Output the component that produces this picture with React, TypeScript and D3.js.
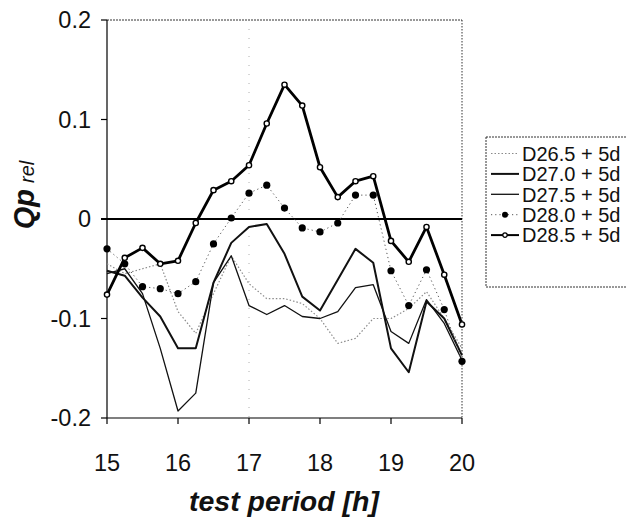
import React from "react";
import * as d3 from "d3";

const hours = [15, 15.25, 15.5, 15.75, 16, 16.25, 16.5, 16.75, 17, 17.25, 17.5, 17.75, 18, 18.25, 18.5, 18.75, 19, 19.25, 19.5, 19.75, 20];

const d265 = [-0.045, -0.055, -0.05, -0.045, -0.093, -0.115, -0.075, -0.037, -0.065, -0.08, -0.08, -0.085, -0.1, -0.125, -0.12, -0.1, -0.1, -0.09, -0.073, -0.1, -0.13];
const d270 = [-0.052, -0.057, -0.079, -0.098, -0.13, -0.13, -0.064, -0.024, -0.008, -0.005, -0.035, -0.078, -0.092, -0.061, -0.03, -0.044, -0.13, -0.154, -0.083, -0.1, -0.137];
const d275 = [-0.055, -0.05, -0.075, -0.13, -0.193, -0.175, -0.064, -0.037, -0.087, -0.096, -0.087, -0.098, -0.1, -0.093, -0.069, -0.066, -0.113, -0.125, -0.081, -0.105, -0.142];
const d280 = [-0.03, -0.045, -0.068, -0.07, -0.075, -0.063, -0.025, 0.001, 0.026, 0.034, 0.011, -0.009, -0.013, -0.004, 0.024, 0.024, -0.052, -0.087, -0.051, -0.091, -0.143];
const d285 = [-0.076, -0.039, -0.029, -0.045, -0.042, -0.004, 0.029, 0.038, 0.054, 0.096, 0.135, 0.114, 0.052, 0.022, 0.038, 0.043, -0.022, -0.043, -0.008, -0.056, -0.106];

const xTicks = [15, 16, 17, 18, 19, 20];
const yTicks = [0.2, 0.1, 0, -0.1, -0.2];
const seriesNames = ["D26.5 + 5d", "D27.0 + 5d", "D27.5 + 5d", "D28.0 + 5d", "D28.5 + 5d"];

type Style = { stroke: string; width: number; dash?: string; marker?: "filled" | "open" };
const styles: Style[] = [
  { stroke: "#8a8a8a", width: 1.2, dash: "1.5,2" },
  { stroke: "#111", width: 2 },
  { stroke: "#111", width: 1.3 },
  { stroke: "#555", width: 1, dash: "1.2,3", marker: "filled" },
  { stroke: "#000", width: 2.8, marker: "open" },
];
const allSeries = [d265, d270, d275, d280, d285];

export default function App() {
  const W = 627, H = 529;
  const x = d3.scaleLinear().domain([15, 20]).range([107, 462]);
  const y = d3.scaleLinear().domain([-0.2, 0.2]).range([418, 20]);
  const line = d3.line<number>().x((_, i) => x(hours[i])).y((v) => y(v));
  const font = "Arial, 'Liberation Sans', sans-serif";

  return (
    <svg width={W} height={H} style={{ position: "absolute", left: 0, top: 0, background: "#fff" }} fontFamily={font}>
      {/* frame */}
      <line x1={x(15)} x2={x(20)} y1={y(0.2)} y2={y(0.2)} stroke="#333" strokeWidth={1} strokeDasharray="2,1" />
      <line x1={x(20)} x2={x(20)} y1={y(0.2)} y2={y(-0.2)} stroke="#333" strokeWidth={1} strokeDasharray="1.5,1.5" />
      <line x1={x(17)} x2={x(17)} y1={y(0.2)} y2={y(-0.2)} stroke="#999" strokeWidth={0.8} strokeDasharray="1,8" />
      <line x1={x(15)} x2={x(15)} y1={y(0.2)} y2={y(-0.2)} stroke="#000" strokeWidth={1.2} />
      <line x1={x(15)} x2={x(20)} y1={y(-0.2)} y2={y(-0.2)} stroke="#000" strokeWidth={1.2} />
      <line x1={x(15) - 6} x2={x(20)} y1={y(0)} y2={y(0)} stroke="#000" strokeWidth={2.2} />

      {yTicks.map((t) => (
        <g key={t}>
          <line x1={x(15) - 6} x2={x(15)} y1={y(t)} y2={y(t)} stroke="#000" strokeWidth={1.2} />
          <text x={91} y={y(t)} dy="0.36em" textAnchor="end" fontSize={23.5} fill="#111">
            {t === 0 ? "0" : t.toString()}
          </text>
        </g>
      ))}
      {xTicks.map((t) => (
        <g key={t}>
          <line x1={x(t)} x2={x(t)} y1={y(-0.2)} y2={y(-0.2) + 6} stroke="#000" strokeWidth={1.2} />
          <text x={x(t)} y={471} textAnchor="middle" fontSize={23.5} fill="#111">
            {t}
          </text>
        </g>
      ))}

      {allSeries.map((s, k) => (
        <path
          key={k}
          d={line(s) || ""}
          fill="none"
          stroke={styles[k].stroke}
          strokeWidth={styles[k].width}
          strokeDasharray={styles[k].dash}
          strokeLinejoin="round"
        />
      ))}
      {d280.map((v, i) => (
        <circle key={"f" + i} cx={x(hours[i])} cy={y(v)} r={3.6} fill="#000" />
      ))}
      {d285.map((v, i) => (
        <circle key={"o" + i} cx={x(hours[i])} cy={y(v)} r={2.6} fill="#fff" stroke="#000" strokeWidth={1.4} />
      ))}

      {/* axis titles */}
      <text x={284} y={511} textAnchor="middle" fontSize={28.5} fontWeight="bold" fontStyle="italic" fill="#111">
        test period [h]
      </text>
      <text transform="translate(34,195) rotate(-90)" textAnchor="middle" fontWeight="bold" fontStyle="italic" fill="#111">
        <tspan fontSize={29}>Qp</tspan>
        <tspan fontSize={20} dx={6} fontWeight="normal">rel</tspan>
      </text>

      {/* legend */}
      <g>
        <rect x={486} y={137} width={145} height={150} fill="#fff" stroke="#333" strokeWidth={1} strokeDasharray="2,1" />
        {seriesNames.map((n, k) => {
          const ly = 153.5 + k * 20.4;
          const st = styles[k];
          return (
            <g key={n}>
              <line x1={491} x2={519} y1={ly} y2={ly} stroke={st.stroke} strokeWidth={Math.min(st.width, 2)} strokeDasharray={st.dash} />
              {st.marker === "filled" && <circle cx={505} cy={ly} r={3} fill="#000" />}
              {st.marker === "open" && <circle cx={505} cy={ly} r={2.2} fill="#fff" stroke="#000" strokeWidth={1.2} />}
              <text x={522} y={ly} dy="0.36em" fontSize={20} fill="#111">
                {n}
              </text>
            </g>
          );
        })}
      </g>
    </svg>
  );
}
